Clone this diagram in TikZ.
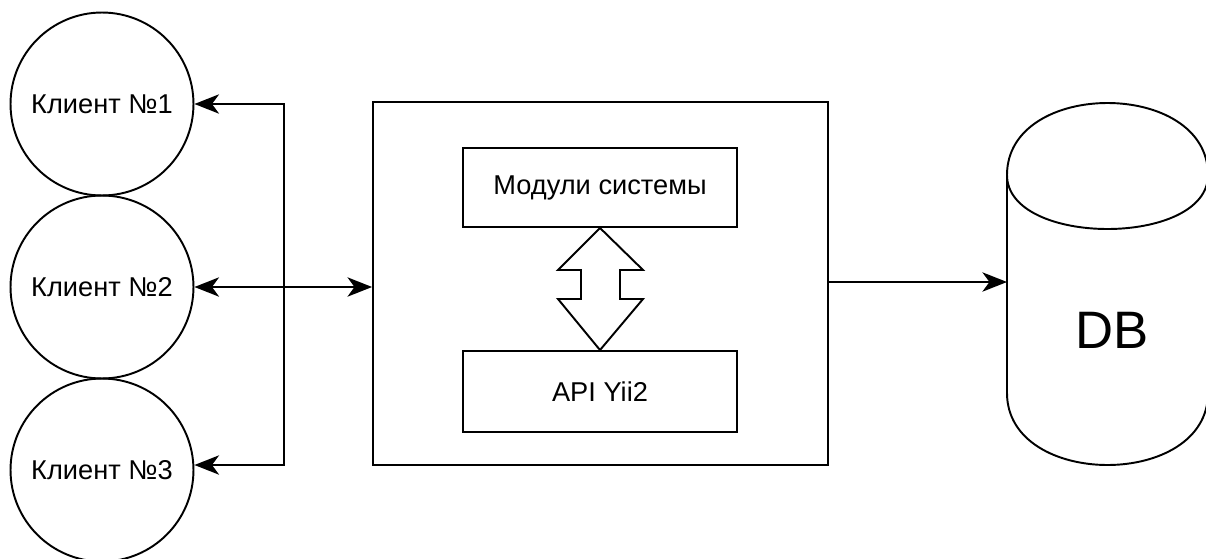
\documentclass[tikz,border=0pt]{standalone}
\usepackage{fontspec}
\setmainfont{Liberation Sans}
\usepackage{tikz}
\usetikzlibrary{positioning,calc,arrows.meta}

\begin{document}
\begin{tikzpicture}[x=0.02cm, y=-0.02cm, line width=1.1pt,
    client/.style = {draw, circle, minimum size=3.66cm, inner sep=0pt,
      font=\fontsize{15.5}{18}\selectfont},
    block/.style = {draw, rectangle, inner sep=0pt,
      font=\fontsize{15.5}{18}\selectfont},
    link/.style = {-{Stealth[length=14pt, width=11pt, inset=4pt]}},
    dlink/.style = {{Stealth[length=14pt, width=11pt, inset=4pt]}-{Stealth[length=14pt, width=11pt, inset=4pt]}}]
  \useasboundingbox (0,0) rectangle (1206,558);

  % clients
  \node[client] (c1) at (102,104) {Клиент №1};
  \node[client] (c2) at (102,287) {Клиент №2};
  \node[client] (c3) at (102,470) {Клиент №3};

  % server with its parts
  \node[block, minimum width=9.1cm, minimum height=7.26cm] (server) at (600.5,283.5) {};
  \node[block, minimum width=5.48cm, minimum height=1.58cm] (mods) at (600,187.5) {Модули системы};
  \node[block, minimum width=5.48cm, minimum height=1.62cm] (api) at (600,391.5) {API Yii2};

  % hollow double arrow between the parts
  \draw (mods.south) -- (558,270) -- (581,270) -- (581,299) -- (558,299)
    -- (api.north) -- (643,299) -- (620,299) -- (620,270) -- (643,270) -- cycle;

  % bus to the clients
  \coordinate (jt) at (284,104);
  \coordinate (jb) at (284,465);
  \draw[dlink] (c1.east) -- (jt) -- (jb) -- (jb -| c3.east);
  \draw[dlink] (c2.east) -- (c2.east -| server.west);

  % database
  \draw (1007,175) .. controls (1007,79) and (1208,79) .. (1208,175)
    -- (1208,393) .. controls (1208,489) and (1007,489) .. (1007,393) -- cycle;
  \draw (1007,175) .. controls (1007,247) and (1208,247) .. (1208,175);
  \node[font=\fontsize{30}{34}\selectfont] (db) at (1112,330) {DB};
  \coordinate (dbw) at (1007,282);
  \draw[link] (server.east |- dbw) -- (dbw);
\end{tikzpicture}
\end{document}
